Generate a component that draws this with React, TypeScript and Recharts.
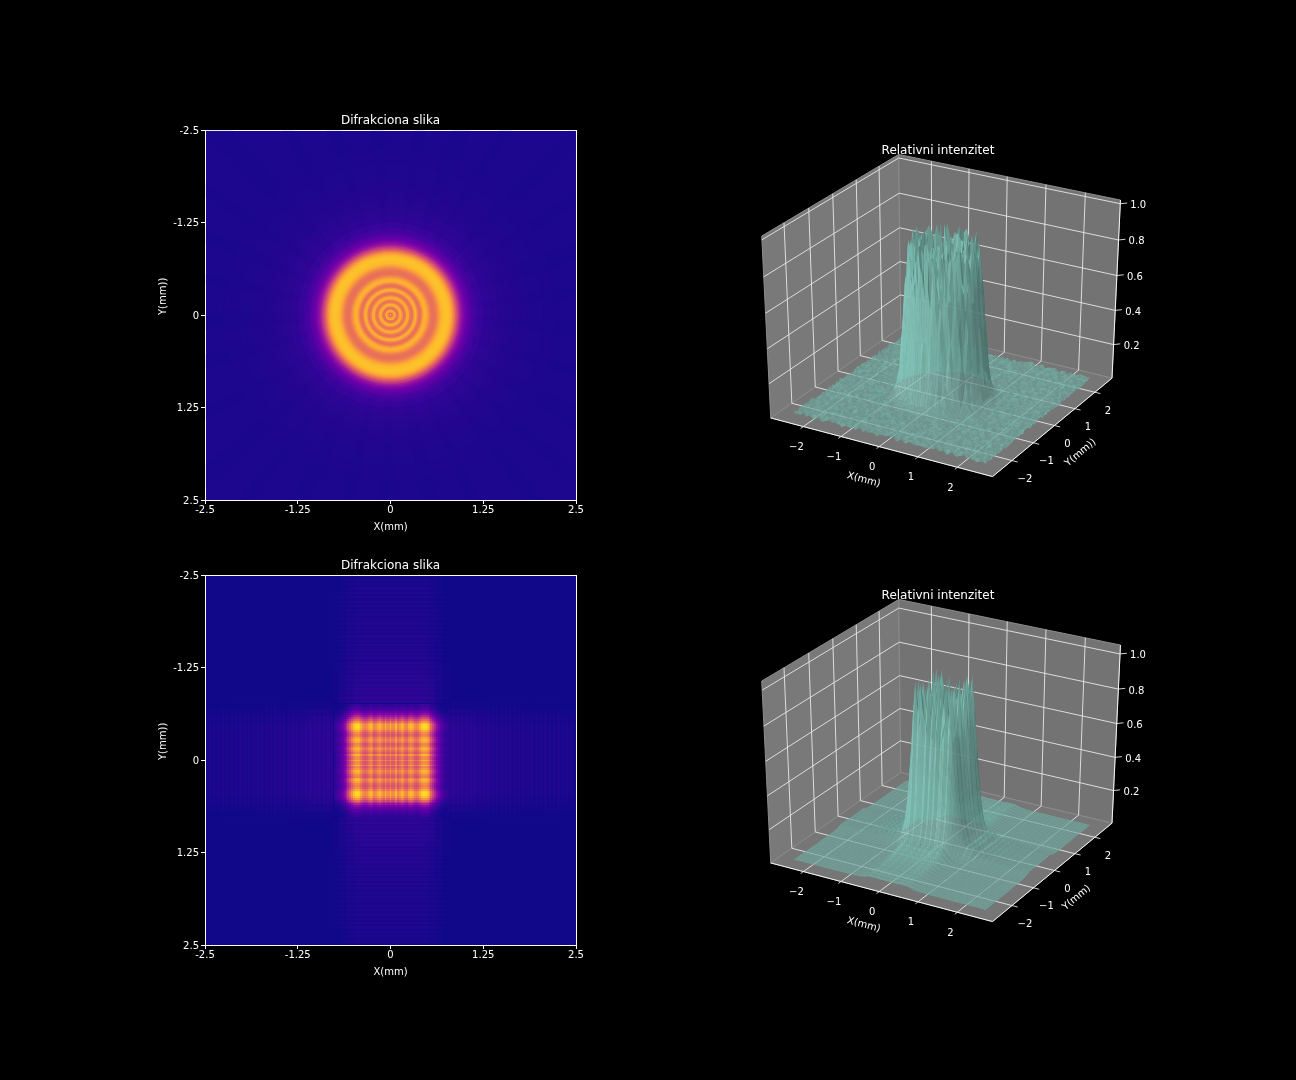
import React from "react";
import { ScatterChart, Scatter, XAxis, YAxis, ReferenceArea, ReferenceLine } from "recharts";

const FONT = "DejaVu Sans";

// heatmap axes
const imageTicks = [-2.5, -1.25, 0, 1.25, 2.5];

// circular aperture: intensity level read outward from the centre
const ringRadii = [
  0, 0.02, 0.04, 0.06, 0.08, 0.1, 0.12, 0.14, 0.16, 0.18, 0.2, 0.22, 0.24, 0.26, 0.28, 0.3, 0.32, 0.34, 0.36, 0.38,
  0.4, 0.42, 0.44, 0.46, 0.48, 0.5, 0.52, 0.54, 0.56, 0.58, 0.6, 0.62, 0.64, 0.66, 0.68, 0.7, 0.72, 0.74, 0.76, 0.78,
  0.8, 0.82, 0.84, 0.86, 0.88, 0.9, 0.92, 0.94, 0.96, 0.98, 1.0, 1.03, 1.06, 1.1, 1.15, 1.2, 1.3, 1.4, 1.5, 1.6, 1.7,
  1.8, 1.9, 2.0, 2.1, 2.2, 2.3, 2.4,
];
const ringLevels = [
  0.92, 0.62, 0.76, 0.83, 0.66, 0.64, 0.78, 0.83, 0.72, 0.64, 0.68, 0.81, 0.81, 0.7, 0.64, 0.66, 0.78, 0.83, 0.74, 0.65,
  0.64, 0.7, 0.79, 0.83, 0.82, 0.78, 0.72, 0.67, 0.64, 0.64, 0.65, 0.68, 0.73, 0.78, 0.82, 0.85, 0.86, 0.87, 0.87, 0.86,
  0.84, 0.8, 0.74, 0.66, 0.58, 0.5, 0.43, 0.36, 0.31, 0.27, 0.23, 0.19, 0.16, 0.125, 0.1, 0.08, 0.065, 0.055, 0.05, 0.045,
  0.042, 0.04, 0.037, 0.035, 0.033, 0.032, 0.031, 0.03,
];
// faint spokes in the background of the circular image
const rayAngles = [4, 17, 29, 41, 52, 66, 78, 91, 103, 116, 128, 139, 152, 166, 178, 191, 203, 214, 227, 241, 253, 266, 279, 291, 302, 316, 328, 341, 353];
const rayWidths = [4, 3, 5, 3, 4, 3, 5, 4, 3, 5, 3, 4, 3, 4, 5, 3, 4, 3, 5, 3, 4, 4, 3, 5, 3, 4, 3, 5, 3];

// square aperture: amplitude from the centre outward, 0.025 mm apart
const slitProfile = [
  0.87, 0.75, 0.76, 0.88, 0.74, 0.8, 0.88, 0.84, 0.76, 0.73, 0.84, 0.89, 0.83, 0.75, 0.72, 0.76, 0.85, 0.94, 0.97, 0.96,
  0.9, 0.78, 0.65, 0.53, 0.41, 0.31, 0.24, 0.18, 0.14, 0.11, 0.09,
];
// arms of the cross: 0.1 mm columns across, 0.03 mm stripes along
const armAcross = [0.66, 0.66, 0.66, 0.66, 0.62, 0.5, 0.32, 0.15];
const armStripes = [
  0.1, 0.08, 0.11, 0.08, 0.1, 0.08, 0.1, 0.07, 0.1, 0.07, 0.09, 0.07, 0.09, 0.06, 0.08, 0.06, 0.08, 0.06, 0.08, 0.05,
  0.08, 0.05, 0.07, 0.05, 0.07, 0.05, 0.07, 0.04, 0.07, 0.04, 0.07, 0.04, 0.07, 0.04, 0.06, 0.04, 0.06, 0.04, 0.06, 0.04,
  0.06, 0.04, 0.06, 0.03, 0.06, 0.03, 0.06, 0.03, 0.06, 0.03, 0.06, 0.03, 0.05, 0.03, 0.05, 0.03, 0.05, 0.03,
];

// 3d surfaces
const surfaceTicksXY = [-2, -1, 0, 1, 2];
const surfaceTicksZ = [0.2, 0.4, 0.6, 0.8, 1.0];
const surfaceLabelsXY = ["\u22122", "\u22121", "0", "1", "2"];
const surfaceLabelsZ = ["0.2", "0.4", "0.6", "0.8", "1.0"];
// height of the disc against radius, 0.042 mm apart
const discHeights = [
  0.86, 0.55, 0.82, 0.62, 0.85, 0.64, 0.87, 0.66, 0.88, 0.68, 0.87, 0.7, 0.84, 0.92, 0.66, 0.8, 0.93, 0.7, 0.9, 0.94,
  0.74, 0.66, 0.48, 0.34, 0.22, 0.14, 0.09, 0.06, 0.04, 0.025, 0.015,
];
// ripple of the floor around the disc
const floorRipple = [
  0.012, 0.003, 0.021, 0.007, 0.016, 0.001, 0.025, 0.009, 0.004, 0.018, 0.011, 0.023, 0.002, 0.014, 0.006, 0.02, 0.008, 0.027,
  0.003, 0.013, 0.019, 0.005, 0.022, 0.01, 0.001, 0.017, 0.024, 0.006, 0.012, 0.002, 0.02, 0.015, 0.004, 0.026, 0.009, 0.018,
  0.003, 0.011, 0.022, 0.007, 0.016, 0.001, 0.024, 0.013, 0.005, 0.019, 0.008, 0.021, 0.002, 0.014, 0.01, 0.025, 0.006,
];
// square aperture amplitude from the centre to 2.5 mm, one value per surface node
const squareHeights = [
  0.9, 0.76, 0.95, 0.78, 0.88, 0.97, 0.84, 0.98, 0.8, 0.56, 0.34, 0.2, 0.12, 0.07, 0.085, 0.055, 0.08, 0.04, 0.06, 0.03,
  0.05, 0.025, 0.04, 0.02, 0.035, 0.018, 0.03, 0.015, 0.028, 0.015, 0.025, 0.012, 0.024, 0.012, 0.022, 0.012, 0.02, 0.01, 0.018,
];

const plasmaStops = ["#0d0887", "#41049d", "#6a00a8", "#8f0da4", "#b12a90", "#cc4778", "#e16462", "#f2844b", "#fca636", "#fcce25", "#f0f921"];

const plasma = (level: number) => {
  const t = Math.min(Math.max(level, 0), 1) * 10;
  const i = Math.min(Math.floor(t), 9);
  const a = plasmaStops[i];
  const b = plasmaStops[i + 1];
  const mix = (at: number) => {
    const from = parseInt(a.slice(at, at + 2), 16);
    const to = parseInt(b.slice(at, at + 2), 16);
    return Math.round(from + (to - from) * (t - i));
  };
  return `rgb(${mix(1)},${mix(3)},${mix(5)})`;
};

const PX_PER_MM = 74.2;

const ringData = ringRadii
  .map((r, i) => ({ x: 0, y: 0, r: r + (ringRadii[i + 1] !== undefined ? ringRadii[i + 1] - r : 0) / 2, level: ringLevels[i] }))
  .reverse();

const rayData = rayAngles.map((angle, i) => ({ x: 0, y: 0, angle, spread: rayWidths[i] }));

const buildSquareCells = () => {
  const cells: any[] = [];
  const step = 0.025;
  const centres: { at: number; amp: number }[] = [];
  slitProfile.forEach((amp, i) => {
    centres.push({ at: i * step, amp });
    if (i > 0) centres.push({ at: -i * step, amp });
  });
  centres.forEach((cx) =>
    centres.forEach((cy) => cells.push({ x: cx.at, y: cy.at, w: step, h: step, level: cx.amp * cy.amp })),
  );
  const armStep = 0.0295;
  const colStep = 0.1;
  armStripes.forEach((stripe, s) => {
    const along = 0.775 + (s + 0.5) * armStep;
    armAcross.forEach((amp, c) => {
      const across = (c + 0.5) * colStep;
      [
        [across, along],
        [-across, along],
        [across, -along],
        [-across, -along],
      ].forEach(([x, y]) => {
        cells.push({ x, y, w: colStep, h: armStep, level: amp * stripe });
        cells.push({ x: y, y: x, w: armStep, h: colStep, level: amp * stripe });
      });
    });
  });
  return cells;
};

const squareCells = buildSquareCells();

const Ring = (props: any) => (
  <circle cx={props.cx} cy={props.cy} r={props.payload.r * PX_PER_MM} fill={plasma(props.payload.level)} />
);

const Ray = (props: any) => {
  const { angle, spread } = props.payload;
  const corner = (rad: number, deg: number) => {
    const a = (deg * Math.PI) / 180;
    return `${props.cx + rad * Math.cos(a)},${props.cy + rad * Math.sin(a)}`;
  };
  const inner = 1.15 * PX_PER_MM;
  const outer = 3.6 * PX_PER_MM;
  const points = [corner(inner, angle - spread / 2), corner(outer, angle - spread / 2), corner(outer, angle + spread / 2), corner(inner, angle + spread / 2)];
  return <polygon points={points.join(" ")} fill="#0d0887" fillOpacity={0.07} />;
};

const Cell = (props: any) => {
  const { w, h, level } = props.payload;
  const pw = w * PX_PER_MM;
  const ph = h * PX_PER_MM;
  return (
    <rect x={props.cx - pw / 2} y={props.cy - ph / 2} width={pw + 0.5} height={ph + 0.5} fill={plasma(level)} shapeRendering="crispEdges" />
  );
};

const crisp = { stroke: "#fff", shapeRendering: "crispEdges" };

const ImagePanel = ({ top, base, children }: any) => (
  <div style={{ position: "absolute", left: 140, top: top - 30, willChange: "opacity" }}>
    <ScatterChart width={460} height={440} margin={{ top: 30, right: 24, bottom: 0, left: 0 }}>
      <XAxis
        type="number"
        dataKey="x"
        domain={[-2.5, 2.5]}
        ticks={imageTicks}
        interval={0}
        allowDataOverflow
        height={40}
        axisLine={crisp}
        tickLine={crisp}
        tickSize={4}
        tick={{ fill: "#fff", fontSize: 10, fontFamily: FONT }}
        label={{ value: "X(mm)", position: "insideBottom", offset: 10, fill: "#fff", fontSize: 10, fontFamily: FONT }}
      />
      <YAxis
        type="number"
        dataKey="y"
        domain={[-2.5, 2.5]}
        ticks={imageTicks}
        interval={0}
        reversed
        allowDataOverflow
        width={65}
        axisLine={crisp}
        tickLine={crisp}
        tickSize={4}
        tick={{ fill: "#fff", fontSize: 10, fontFamily: FONT }}
        label={{ value: "Y(mm))", angle: -90, position: "insideLeft", offset: 22, fill: "#fff", fontSize: 10, fontFamily: FONT }}
      />
      <ReferenceArea x1={-2.5} x2={2.5} y1={-2.5} y2={2.5} fill={base} fillOpacity={1} stroke="none" />
      {children}
      <ReferenceLine y={-2.5} stroke="#fff" shapeRendering="crispEdges" />
      <ReferenceLine x={2.5} stroke="#fff" shapeRendering="crispEdges" />
    </ScatterChart>
    <div style={{ position: "absolute", left: 65, width: 371, top: 13, textAlign: "center", color: "#fff", fontSize: 12, fontFamily: FONT }}>
      Difrakciona slika
    </div>
  </div>
);

// mplot3d camera at elev 30, azim -60, dist 10, fitted to the panes
const U = [0.866, 0.5, 0];
const V = [-0.25, 0.433, 0.866];
const N = [0.433, -0.75, 0.5];
const CHART_W = 440;
const CHART_H = 400;
const dot3 = (a: number[], b: number[]) => a[0] * b[0] + a[1] * b[1] + a[2] * b[2];
const project = (f: number[]) => {
  const p = [f[0] - 0.5, f[1] - 0.5, f[2] - 0.5];
  const depth = 10 - dot3(N, p);
  return { sx: 204 + (2560 * dot3(U, p)) / depth, sy: 180 - (2077 * dot3(V, p)) / depth, order: dot3(N, p) };
};

const toFrac = (mm: number) => (mm + 2.88) / 5.76;

const shapeFrom = (corners: number[][], style: any) => {
  const pts = corners.map(project);
  const { sx, sy } = pts[0];
  return { sx, sy, offsets: pts.map((q) => [q.sx - sx, q.sy - sy]), ...style };
};

const buildPanes = () => [
  shapeFrom([[0, 0, 0], [0, 1, 0], [0, 1, 1], [0, 0, 1]], { fill: "#797979", stroke: "#8c8c8c" }),
  shapeFrom([[0, 1, 0], [1, 1, 0], [1, 1, 1], [0, 1, 1]], { fill: "#737373", stroke: "#8c8c8c" }),
  shapeFrom([[0, 0, 0], [1, 0, 0], [1, 1, 0], [0, 1, 0]], { fill: "#767676", stroke: "#8c8c8c" }),
];

const buildGrid = (zTop: number) => {
  const line = { stroke: "#e8e8e8", strokeWidth: 0.9 };
  const edge = { stroke: "#f4f4f4", strokeWidth: 1 };
  const out: any[] = [];
  surfaceTicksXY.forEach((t) => {
    const f = toFrac(t);
    out.push(shapeFrom([[f, -0.02, 0], [f, 1, 0], [f, 1, 1]], { ...line, open: true }));
    out.push(shapeFrom([[1.025, f, 0], [0, f, 0], [0, f, 1]], { ...line, open: true }));
  });
  surfaceTicksZ.forEach((t) => {
    const f = t / zTop;
    out.push(shapeFrom([[0, 0, f], [0, 1, f], [1, 1, f], [1.02, 1.02, f]], { ...line, open: true }));
  });
  out.push(shapeFrom([[0, 0, 0], [1, 0, 0], [1, 1, 0], [1, 1, 1]], { ...edge, open: true }));
  return out;
};

const buildLabels = (zTop: number, yLabel: string, yAt: number[]) => {
  const out: any[] = [];
  surfaceTicksXY.forEach((t, i) => {
    const f = toFrac(t);
    const xp = project([f, 0, 0]);
    out.push({ sx: xp.sx - 7, sy: xp.sy + 20, text: surfaceLabelsXY[i], size: 10 });
    const yp = project([1, f, 0]);
    out.push({ sx: yp.sx + 13, sy: yp.sy + 18, text: surfaceLabelsXY[i], size: 10 });
  });
  surfaceTicksZ.forEach((t, i) => {
    const zp = project([1, 1, t / zTop]);
    out.push({ sx: zp.sx + 18, sy: zp.sy + 1, text: surfaceLabelsZ[i], size: 10 });
  });
  out.push({ sx: 124, sy: 349, text: "X(mm)", size: 10, angle: 15 });
  out.push({ sx: yAt[0], sy: yAt[1], text: yLabel, size: 10, angle: -40 });
  out.push({ sx: 198, sy: 20, text: "Relativni intenzitet", size: 12 });
  return out;
};

const NODES = 77;
const NODE_STEP = 5 / 76;
const nodeAt = (i: number) => -2.5 + i * NODE_STEP;

const discHeight = (ix: number, iy: number) => {
  const r = Math.hypot(nodeAt(ix), nodeAt(iy));
  const idx = Math.round(r / 0.042);
  const ripple = floorRipple[(ix * ix * 7 + iy * iy * 11 + ix * iy * 3) % floorRipple.length];
  const floor = ripple + 0.003;
  return idx < discHeights.length ? Math.max(discHeights[idx] * (1 - ripple * 7), floor) : floor;
};

const squareHeight = (ix: number, iy: number) =>
  squareHeights[Math.abs(ix - 38)] * squareHeights[Math.abs(iy - 38)] + 0.004;

const LIGHT = [-0.667, -0.667, 0.333];

const buildSurface = (height: (ix: number, iy: number) => number, zTop: number, opacity: number) => {
  const facets: any[] = [];
  for (let ix = 0; ix < NODES - 1; ix++) {
    for (let iy = 0; iy < NODES - 1; iy++) {
      const q = [
        [ix, iy],
        [ix + 1, iy],
        [ix + 1, iy + 1],
        [ix, iy + 1],
      ].map(([a, b]) => [nodeAt(a), nodeAt(b), height(a, b)]);
      const d1 = [q[2][0] - q[0][0], q[2][1] - q[0][1], q[2][2] - q[0][2]];
      const d2 = [q[3][0] - q[1][0], q[3][1] - q[1][1], q[3][2] - q[1][2]];
      const nrm = [d1[1] * d2[2] - d1[2] * d2[1], d1[2] * d2[0] - d1[0] * d2[2], d1[0] * d2[1] - d1[1] * d2[0]];
      const len = Math.hypot(nrm[0], nrm[1], nrm[2]) || 1;
      const shade = 0.95 * (0.5 + 0.5 * ((dot3(nrm, LIGHT) / len + 1) / 2));
      const fill = `rgb(${Math.round(141 * shade)},${Math.round(211 * shade)},${Math.round(199 * shade)})`;
      const corners = q.map((c) => [toFrac(c[0]), toFrac(c[1]), c[2] / zTop]);
      const mid = [
        (corners[0][0] + corners[2][0]) / 2,
        (corners[0][1] + corners[2][1]) / 2,
        (corners[0][2] + corners[1][2] + corners[2][2] + corners[3][2]) / 4,
      ];
      facets.push({ ...shapeFrom(corners, { fill, fillOpacity: opacity }), order: project(mid).order });
    }
  }
  return facets.sort((a, b) => a.order - b.order);
};

const Poly = (props: any) => {
  const { offsets, fill, fillOpacity, stroke, strokeWidth, open } = props.payload;
  const points = offsets.map((o: number[]) => `${props.cx + o[0]},${props.cy + o[1]}`).join(" ");
  return open ? (
    <polyline points={points} fill="none" stroke={stroke} strokeWidth={strokeWidth} />
  ) : (
    <polygon points={points} fill={fill} fillOpacity={fillOpacity} stroke={stroke} strokeWidth={strokeWidth} />
  );
};

const Caption = (props: any) => {
  const { text, size, angle } = props.payload;
  return (
    <text
      x={props.cx}
      y={props.cy}
      fill="#fff"
      fontSize={size}
      fontFamily={FONT}
      textAnchor="middle"
      dominantBaseline="central"
      transform={angle ? `rotate(${angle} ${props.cx} ${props.cy})` : undefined}
    >
      {text}
    </text>
  );
};

const SurfacePanel = ({ top, facets, zTop, yLabel, yAt }: any) => (
  <div style={{ position: "absolute", left: 740, top, willChange: "opacity" }}>
    <ScatterChart width={CHART_W} height={CHART_H} margin={{ top: 0, right: 0, bottom: 0, left: 0 }}>
      <XAxis type="number" dataKey="sx" domain={[0, CHART_W]} allowDataOverflow hide />
      <YAxis type="number" dataKey="sy" domain={[0, CHART_H]} reversed allowDataOverflow hide />
      <Scatter data={buildPanes()} shape={Poly} isAnimationActive={false} />
      <Scatter data={buildGrid(zTop)} shape={Poly} isAnimationActive={false} />
      <Scatter data={facets} shape={Poly} isAnimationActive={false} />
      <Scatter data={buildLabels(zTop, yLabel, yAt)} shape={Caption} isAnimationActive={false} />
    </ScatterChart>
  </div>
);

const discFacets = buildSurface(discHeight, 1.02, 0.82);
const squareFacets = buildSurface(squareHeight, 1.05, 0.82);

export default function App() {
  return (
    <div style={{ position: "absolute", left: 0, top: 0, width: 1296, height: 1080, background: "#000", overflow: "hidden" }}>
      <ImagePanel top={130} base={plasma(0.03)}>
        <Scatter data={ringData} shape={Ring} isAnimationActive={false} />
        <Scatter data={rayData} shape={Ray} isAnimationActive={false} />
      </ImagePanel>
      <ImagePanel top={575} base={plasma(0.005)}>
        <Scatter data={squareCells} shape={Cell} isAnimationActive={false} />
      </ImagePanel>
      <SurfacePanel top={130} facets={discFacets} zTop={1.02} yLabel="Y(mm))" yAt={[340, 322]} />
      <SurfacePanel top={575} facets={squareFacets} zTop={1.05} yLabel="Y(mm)" yAt={[336, 322]} />
    </div>
  );
}
